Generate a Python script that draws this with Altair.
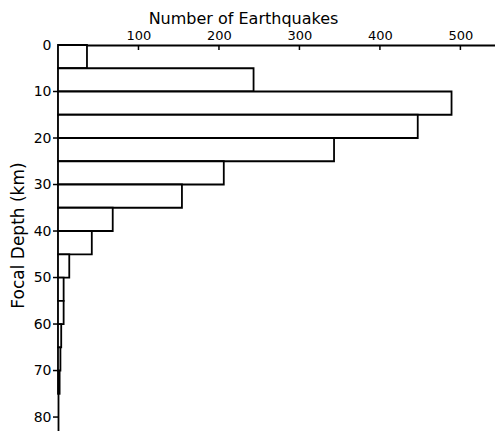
import altair as alt
import pandas as pd

depth_start = [0, 5, 10, 15, 20, 25, 30, 35, 40, 45, 50, 55, 60, 65, 70]
counts = [36, 243, 489, 447, 343, 206, 154, 68, 42, 14, 7, 7, 4, 3, 2]
x_ticks = [100, 200, 300, 400, 500]
y_labels = [0, 10, 20, 30, 40, 50, 60, 70, 80]
y_ticks = [10, 20, 30, 40, 50, 60, 70, 80]

df = pd.DataFrame({
    "start": depth_start,
    "end": [s + 5 for s in depth_start],
    "count": counts,
    "zero": [0] * len(counts),
})
xt = pd.DataFrame({"v": x_ticks})
yt = pd.DataFrame({"v": y_ticks})

FONT = "DejaVu Sans"
xscale = alt.Scale(domain=[0, 543], nice=False, zero=False)
yscale = alt.Scale(domain=[0, 83], nice=False, zero=False, reverse=True)

ax_x = alt.Axis(
    orient="top", values=x_ticks, ticks=False, grid=False,
    domainColor="black", domainWidth=1.8,
    labelFont=FONT, labelFontSize=13, labelColor="black", labelPadding=3,
    title="Number of Earthquakes", titleFont=FONT, titleFontSize=16,
    titleFontWeight="normal", titleColor="black",
    titleX=185, titleY=-22, titleAlign="center", titleBaseline="alphabetic",
)
ax_y = alt.Axis(
    values=y_labels, ticks=False, grid=False,
    domainColor="black", domainWidth=1.8,
    labelFont=FONT, labelFontSize=14, labelColor="black", labelPadding=7,
    title="Focal Depth (km)", titleFont=FONT, titleFontSize=17,
    titleFontWeight="normal", titleColor="black",
    titleAngle=270, titleX=-40, titleY=190, titleAlign="center",
    titleBaseline="middle",
)

bars = alt.Chart(df).mark_rect(
    fill="white", stroke="black", strokeWidth=1.8
).encode(
    x=alt.X("zero:Q", scale=xscale, axis=ax_x),
    x2="count:Q",
    y=alt.Y("start:Q", scale=yscale, axis=ax_y),
    y2="end:Q",
)

xtick_layer = alt.Chart(xt).mark_rule(color="black", strokeWidth=1.5).encode(
    x=alt.X("v:Q", scale=xscale, axis=ax_x),
    y=alt.value(0),
    y2=alt.value(5),
)

ytick_layer = alt.Chart(yt).mark_rule(color="black", strokeWidth=1.5).encode(
    y=alt.Y("v:Q", scale=yscale, axis=ax_y),
    x=alt.value(-5),
    x2=alt.value(0),
)

chart = alt.layer(bars, xtick_layer, ytick_layer).properties(
    width=437, height=386,
    autosize=alt.AutoSizeParams(type="none"),
    padding={"left": 50, "top": 37, "right": 0, "bottom": 0},
    background="white",
).configure_view(stroke=None)

chart.save("out.html", embed_options={"renderer": "svg", "actions": False})
